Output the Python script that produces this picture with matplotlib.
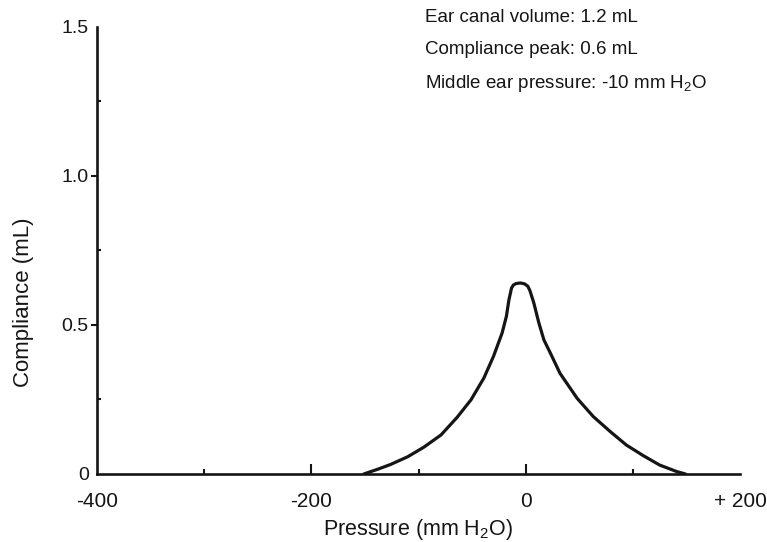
import matplotlib
matplotlib.use("Agg")
import matplotlib.pyplot as plt
from matplotlib.ticker import FixedLocator

# ---- data ----
pressure = [-151, -138, -126, -110, -95, -79, -64, -51, -39, -30, -22, -18,
            -15.6, -13.2, -11.5, -9, -5, -1, 2, 4, 7.6, 12.3, 17, 23, 32,
            48, 63, 79, 94, 110, 125, 141, 149]
compliance = [0.0, 0.016, 0.032, 0.058, 0.09, 0.131, 0.19, 0.249, 0.322,
              0.395, 0.473, 0.529, 0.585, 0.624, 0.634, 0.639, 0.641, 0.638,
              0.630, 0.615, 0.574, 0.507, 0.45, 0.406, 0.338, 0.254, 0.193,
              0.142, 0.097, 0.061, 0.030, 0.008, 0.0]

xtick_major = [-400, -200, 0, 200]
xtick_labels = ["-400", "-200", "0", "+ 200"]
xtick_minor = [-300, -100, 100]
ytick_major = [0, 0.5, 1.0, 1.5]
ytick_labels = ["0", "0.5", "1.0", "1.5"]
ytick_minor = [0.25, 0.75, 1.25]

info_lines = ["Ear canal volume: 1.2 mL",
              "Compliance peak: 0.6 mL",
              "Middle ear pressure: -10 mm H$_2$O"]

FAM = ["Liberation Sans", "DejaVu Sans"]
plt.rcParams["font.family"] = FAM
plt.rcParams["mathtext.fontset"] = "custom"
plt.rcParams["mathtext.rm"] = "Liberation Sans"
plt.rcParams["mathtext.it"] = "Liberation Sans"
plt.rcParams["mathtext.default"] = "regular"

INK = "#151515"

fig = plt.figure(figsize=(7.67, 5.42), dpi=100)
ax = fig.add_axes([0.1265, 0.1255, 0.8383, 0.8247])
ax.set_xlim(-400, 200)
ax.set_ylim(0, 1.5)

ax.plot(pressure, compliance, color=INK, lw=2.3, solid_capstyle="round",
        solid_joinstyle="round")

for s in ("top", "right"):
    ax.spines[s].set_visible(False)
for s in ("left", "bottom"):
    ax.spines[s].set_linewidth(1.9)
    ax.spines[s].set_color(INK)

# x axis: inward tick marks, longer at -200 and 0, none at the ends
ax.set_xticks(xtick_major)
ax.set_xticklabels(xtick_labels)
ax.tick_params(axis="x", which="major", direction="in", length=7, width=1.5,
               pad=13, labelsize=15, colors=INK)
ax.xaxis.set_minor_locator(FixedLocator(xtick_minor))
ax.tick_params(axis="x", which="minor", direction="in", length=3.5, width=1.5, color=INK)

# y axis
ax.set_yticks(ytick_major)
ax.set_yticklabels(ytick_labels)
ax.tick_params(axis="y", which="major", direction="out", length=4, width=1.5,
               pad=2, labelsize=14, colors=INK)
ax.yaxis.set_minor_locator(FixedLocator(ytick_minor))
ax.tick_params(axis="y", which="minor", direction="in", length=3, width=1.5, color=INK)

fig.canvas.draw()
for tk in ax.xaxis.get_major_ticks():
    if tk.get_loc() in (-400, 200):
        tk.tick1line.set_visible(False)
for tk in ax.yaxis.get_major_ticks():
    if tk.get_loc() in (0, 1.5):
        tk.tick1line.set_visible(False)

ax.set_xlabel("Pressure (mm H$_2$O)", fontsize=15.5, color=INK, labelpad=4)
ax.set_ylabel("Compliance (mL)", fontsize=16, color=INK)
ax.yaxis.set_label_coords(-0.098, 0.385)

for i, t in enumerate(info_lines):
    fig.text(425 / 767, 1 - (17 + 33 * i) / 542, t, fontsize=13.5, color=INK,
             ha="left", va="center")

fig.savefig("out.png", dpi=100)
